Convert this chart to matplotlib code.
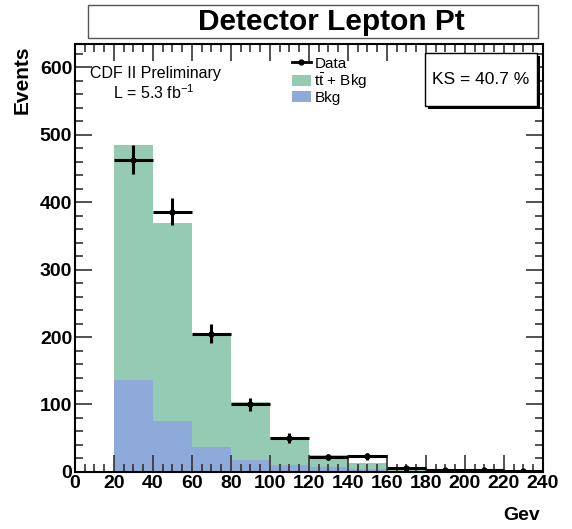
import numpy as np
import matplotlib.pyplot as plt
from matplotlib.lines import Line2D
from matplotlib.patches import Patch, Rectangle
from matplotlib.ticker import MultipleLocator

plt.rcParams['font.family'] = ['Liberation Sans', 'DejaVu Sans']
plt.rcParams['mathtext.fontset'] = 'custom'
plt.rcParams['mathtext.rm'] = 'Liberation Sans'
plt.rcParams['mathtext.it'] = 'Liberation Sans:italic'

# histogram content (GeV bins of 20)
edges = [0, 20, 40, 60, 80, 100, 120, 140, 160, 180, 200, 220, 240]
ttbar_bkg = [1, 485, 370, 203, 104, 52, 25, 13, 5, 3, 2, 1]
bkg = [1, 136, 76, 37, 18, 10, 7, 4, 2, 1, 1, 0.5]
data = [0, 463, 386, 205, 100, 50, 22, 23, 5, 3, 3, 1]

green = '#96cbb3'
blue = '#8eaadb'

fig = plt.figure(figsize=(5.72, 5.29), dpi=100)
ax = fig.add_axes([0.131, 0.108, 0.818, 0.809])

ax.stairs(ttbar_bkg, edges, fill=True, color=green)
ax.stairs(bkg, edges, fill=True, color=blue)

e = np.array(edges, dtype=float)
centers = (e[:-1] + e[1:]) / 2
d = np.array(data, dtype=float)
m = d > 0
ax.errorbar(centers[m], d[m], xerr=10, yerr=np.sqrt(d[m]), fmt='o', color='black',
            ms=3.5, elinewidth=2.2, capsize=0, zorder=5)

ax.set_xlim(0, 240)
ax.set_ylim(0, 635)
ax.xaxis.set_major_locator(MultipleLocator(20))
ax.xaxis.set_minor_locator(MultipleLocator(5))
ax.yaxis.set_major_locator(MultipleLocator(100))
ax.yaxis.set_minor_locator(MultipleLocator(20))
ax.tick_params(which='both', direction='in', top=True, right=True, width=1.2, color='#333333')
ax.tick_params(which='major', length=12, labelsize=14, pad=2)
ax.tick_params(which='minor', length=6)
for lab in ax.get_xticklabels() + ax.get_yticklabels():
    lab.set_fontweight('bold')
for s in ax.spines.values():
    s.set_linewidth(1.5)

fig.text(22 / 572, 1 - 45 / 529, 'Events', rotation=90, ha='center', va='top',
         fontsize=15, fontweight='bold')
fig.text(540 / 572, 1 - 524 / 529, 'Gev', ha='right', va='bottom', fontsize=14, fontweight='bold')

# title box
fig.patches.append(Rectangle((88 / 572, 1 - 38 / 529), 450 / 572, 33 / 529,
                             transform=fig.transFigure, facecolor='white',
                             edgecolor='#555555', lw=1))
fig.text(331 / 572, 1 - 22 / 529, 'Detector Lepton Pt', ha='center', va='center',
         fontsize=21.5, fontweight='bold')

ax.text(0.032, 0.93, 'CDF II Preliminary', transform=ax.transAxes, fontsize=11.5, va='center')
ax.text(0.082, 0.885, 'L = 5.3 fb$^{-1}$', transform=ax.transAxes, fontsize=11.5, va='center')

handles = [Line2D([0], [0], color='black', marker='o', ms=3.5, lw=2),
           Patch(facecolor=green),
           Patch(facecolor=blue)]
labels = ['Data', r'$\mathrm{t\bar{t}}$ + Bkg', 'Bkg']
ax.legend(handles, labels, loc='upper left', bbox_to_anchor=(0.44, 0.995), frameon=False,
          fontsize=11, handlelength=1.3, handletextpad=0.2, labelspacing=0.0,
          borderpad=0.2)

# KS box with shadow
fig.patches.append(Rectangle((428 / 572, 1 - 109 / 529), 112 / 572, 53 / 529,
                             transform=fig.transFigure, facecolor='black', lw=0, zorder=3))
fig.patches.append(Rectangle((425 / 572, 1 - 106 / 529), 112 / 572, 53 / 529,
                             transform=fig.transFigure, facecolor='white',
                             edgecolor='black', lw=1, zorder=4))
fig.text(481 / 572, 1 - 80 / 529, 'KS = 40.7 %', ha='center', va='center', fontsize=12.5, zorder=5)

fig.savefig('out.png', dpi=100)
